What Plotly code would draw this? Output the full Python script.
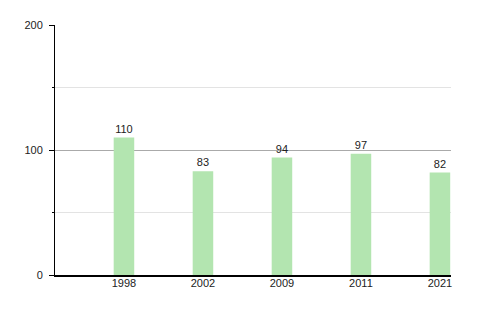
import plotly.graph_objects as go

years = ["1998", "2002", "2009", "2011", "2021"]
values = [110, 83, 94, 97, 82]

fig = go.Figure()
fig.add_trace(go.Bar(
    x=years, y=values,
    text=[str(v) for v in values], textposition="outside",
    textfont=dict(size=11, color="#222222", family="Liberation Sans, Arial, sans-serif"),
    marker=dict(color="#b3e5b0", line=dict(width=0)),
    width=0.26, cliponaxis=False,
))

fig.update_layout(
    width=500, height=310,
    margin=dict(l=55, r=49, t=25, b=35),
    paper_bgcolor="white", plot_bgcolor="white",
    showlegend=False,
    font=dict(family="Liberation Sans, Arial, sans-serif", size=11, color="#222222"),
)
fig.update_xaxes(
    type="category", range=[-0.873, 4.14],
    showline=True, linecolor="black", linewidth=1.5,
    ticks="", showgrid=False, zeroline=False,
    tickfont=dict(size=11, color="#222222"),
    ticklabelstandoff=-3,
)
fig.update_yaxes(
    range=[0, 200], tickvals=[0, 100, 200],
    showline=True, linecolor="black", linewidth=1,
    ticks="outside", ticklen=5, tickcolor="black",
    showgrid=True, gridcolor="#aaaaaa", gridwidth=1,
    zeroline=False,
    minor=dict(tickvals=[50, 150], ticks="outside", ticklen=2, tickcolor="black",
               showgrid=True, gridcolor="#e3e3e3", gridwidth=1),
    tickfont=dict(size=11, color="#222222"),
    ticklabelstandoff=4,
)

fig.write_html("out.html")
